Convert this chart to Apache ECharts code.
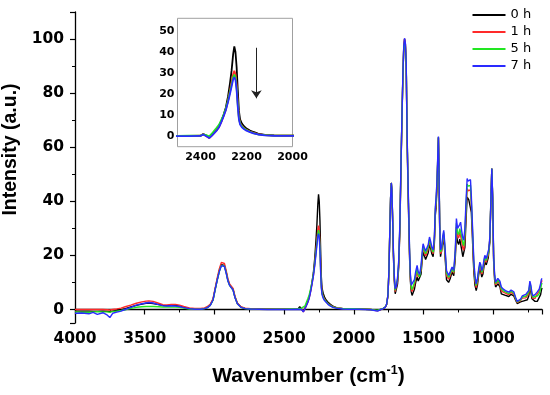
<!DOCTYPE html>
<html><head><meta charset="utf-8">
<script src="https://cdn.jsdelivr.net/npm/echarts@6/dist/echarts.min.js"></script>
<style>html,body{margin:0;padding:0;background:#fff}#c{width:550px;height:395px}</style>
</head><body><div id="c"></div>
<script>
// Wavenumber grid (cm-1)
const wavenumber = [
4000,3950,3900,3870,3840,3800,3770,3750,3730,3700,3670,3640,3600,3560,3520,3490,3470,3440,3400,3370,3340,3310,3280,3250,3220,3180,3140,3100,3070,3050,3030,
3010,2995,2980,2965,2950,2938,2928,2915,2903,2890,2878,2866,2852,2835,2810,2780,
2740,2680,2620,2560,2500,2450,
2400,2388,2375,2362,2350,2340,2330,2320,2310,2300,2290,2280,2272,2265,2258,2253,2248,2243,2238,2233,2228,2220,2210,2200,2185,2170,2150,2120,2080,2040,2000,
1960,1920,1880,1850,1830,1810,1790,1775,1765,
1755,1748,1742,1736,1731,1727,1722,1716,1710,1703,1695,1686,1678,1670,1663,1656,1648,1642,1636,1630,1624,1618,1612,1606,1600,1594,1588,1582,1574,1565,1556,1546,1538,1528,1518,1510,1503,1495,1485,1476,1466,1457,1448,1440,1431,1422,1415,1410,1403,1397,1393,1389,1384,1378,
1370,1362,1355,1347,1335,1320,1308,1295,1283,1272,1264,1256,1248,1240,1234,1226,1218,1211,1203,1195,1187,1181,1175,1169,1163,1157,1151,1145,1139,1131,1122,1113,1104,1096,1089,1082,1074,1066,1060,1055,1050,1043,1036,1031,1024,1017,1010,1004,997,990,983,975,967,960,952,942,927,912,900,888,880,872,862,852,840,828,816,804,792,780,766,755,745,737,730,722,715,700,684,670,660,655,650
];
// 0 h
const h0 = [
-0.6,-0.6,-0.6,-0.7,-0.7,-0.6,-0.7,-0.8,-0.6,-0.4,-0.1,0.3,0.9,1.5,2.0,2.3,2.4,2.2,1.8,1.5,1.4,1.5,1.5,1.2,0.8,0.4,0.2,0.2,0.4,0.8,1.6,
3.6,7.4,11.0,14.3,16.6,17.3,16.3,13.7,10.8,9.0,9.2,7.4,4.5,2.2,0.9,0.4,
0.3,0.2,0.2,0.1,0.1,0.1,
0.2,1.0,0.3,-0.7,0.6,1.8,3.0,4.6,7.0,10,13.5,19,25,31,39,42.6,40,33,22,12,8,6,4.6,3.6,2.7,2.0,1.2,0.6,0.4,0.3,0.3,
0.2,0.1,0.0,-0.2,-0.3,0.0,0.3,0.8,1.8,
5,14,28,41,46.8,44,34,20,11,5.8,6.2,9.5,15.5,28.5,48,67,86,96,100,98,90,64,47,33,19,10.5,6.5,5.2,5.8,7.5,10,12,10.5,10,13,18,21.2,20,18.5,18,21,24,22.5,20.5,19.5,24.5,35,37.5,45,56,63.5,51,30,19.5,
20,24.5,26.5,21,11,10,11.5,13.8,12.5,19,28,25,24,26,26.5,22,19.5,18.8,23,33,41.6,41,40.5,41,41,36,29,21,14,9,7,9,13,15,14,12,13,16,17.5,18,16.5,17,19,19.4,25,39,52,41,18,11,8.3,8.6,9.5,10.1,8.5,5.8,5.5,5.2,5,4.8,5.2,5.6,6,5,3.5,2.2,2.3,2.8,3.5,3.2,3.3,3.6,5,7.7,6.5,4,3.3,3,3,3.5,5.5,7,8
];
// 1 h
const h1 = [
0.0,0.0,0.0,0.0,0.0,0.0,-0.1,-0.2,0.0,0.2,0.5,1.0,1.6,2.3,2.8,3.1,3.2,3.0,2.3,1.8,1.7,1.9,1.9,1.6,1.1,0.6,0.4,0.4,0.6,1.1,1.9,
3.9,7.8,11.6,15.0,17.4,18.1,17.0,14.3,11.3,9.4,9.6,7.8,4.8,2.4,1.0,0.5,
0.3,0.2,0.2,0.1,0.1,0.1,
0.2,0.9,0.1,-0.9,0.4,1.6,2.8,4.3,6.7,9.5,12.5,17,21.5,25.5,29.5,31,29.5,24.5,16,9,6.3,4.8,3.8,3.0,2.2,1.6,1.0,0.5,0.3,0.2,0.2,
0.2,0.1,0.0,-0.3,-0.5,-0.1,0.3,0.8,1.8,
5.2,14.2,28.2,41.2,46.8,44.2,34.5,20.9,11.9,6.6,7.2,10.6,16.6,29.6,48.9,67.4,86.4,96.4,100.1,98.2,90.4,64.9,48.4,34.4,20.4,11.6,7.6,6.6,7.2,9.1,11.8,13.9,12.0,11.4,14.3,19.3,22.6,21.4,19.8,19.4,22.4,25.3,23.6,21.6,20.6,25.6,36.4,39.0,46.3,56.9,63.7,51.4,30.9,20.6,
21.4,25.6,27.8,22.4,12.5,11.2,12.6,14.7,13.4,20.4,30.5,27.3,26.4,28.5,29.1,25.2,22.7,21.9,26.2,36.2,44.7,43.9,43.4,43.9,44.2,38.7,31.3,23.3,15.8,10.6,8.1,10.1,13.9,16.1,15.1,13.1,14.1,17.1,18.6,19.1,17.5,18.1,20.1,20.8,25.9,39.5,52.1,41.5,18.9,11.9,9.1,9.5,10.4,11.1,9.4,6.9,6.4,6.0,5.7,5.5,5.9,6.3,6.8,5.7,4.0,2.6,2.6,3.3,4.2,3.9,4.3,4.6,5.9,9.0,7.6,4.9,4.1,4.1,5.8,6.8,8.6,10,10.8
];
// 5 h
const h5 = [
-0.9,-1.0,-1.0,-0.9,-0.8,-0.9,-0.9,-1.0,-0.8,-0.6,-0.4,-0.1,0.4,0.8,1.0,1.1,1.1,1.1,1.0,0.9,0.9,0.9,0.9,0.8,0.5,0.2,0.1,0.1,0.3,0.7,1.5,
3.4,7.2,10.8,14.0,16.3,17.0,16.0,13.5,10.6,8.8,9.0,7.2,4.4,2.1,0.8,0.3,
0.2,0.1,0.1,0.1,0.1,0.2,
0.3,0.8,0.5,-0.1,1.3,2.7,4.0,5.4,7.6,10,13,17,21,24.5,28,29.3,28,23,15,8.5,6,4.6,3.6,2.9,2.1,1.5,0.9,0.5,0.3,0.3,0.3,
0.2,0.1,0.0,-0.2,-0.3,0.0,0.4,0.9,1.9,
5.4,14.4,28.4,41.3,46.8,44.4,34.7,21.4,12.4,7.1,7.8,11.3,17.3,30.3,49.4,67.5,86.5,96.3,98.6,97.3,90.5,65.4,49.1,35.1,21.1,12.3,8.2,7.4,8.0,10.0,12.8,15.0,12.9,12.1,15.1,19.8,23.4,22.1,20.6,20.1,23.1,25.9,24.1,22.1,21.2,26.2,37.1,39.9,47.1,57.4,63.8,51.7,31.4,21.3,
22.1,26.3,28.5,23.1,13.4,11.8,13.3,15.1,13.8,21.1,31.9,28.5,27.7,29.9,30.6,26.9,24.4,23.6,27.9,37.9,46.4,45.6,45.1,45.6,45.9,40.2,32.5,24.5,16.8,11.5,8.8,10.8,14.4,16.8,15.8,13.7,14.8,17.8,19.3,19.7,18.1,18.8,20.8,21.6,26.4,39.7,52.1,41.7,19.4,12.4,9.6,9.9,10.9,11.6,9.9,7.6,6.9,6.5,6.1,5.9,6.3,6.7,7.3,6.1,4.2,2.8,2.8,3.5,4.6,4.3,4.9,5.1,6.4,9.7,8.3,5.4,4.5,4.8,5.0,5.8,7.6,9.0,9.8
];
// 7 h
const h7 = [
-1.4,-1.3,-1.6,-1.1,-1.8,-1.2,-2.0,-3.0,-1.4,-1.0,-0.6,0.0,0.8,1.6,2.1,2.4,2.6,2.4,1.8,1.4,1.3,1.4,1.3,1.1,0.7,0.3,0.1,0.1,0.3,0.7,1.5,
3.5,7.3,10.8,14.0,16.2,16.9,15.9,13.3,10.5,8.8,9.0,7.2,4.3,2.1,0.8,0.3,
0.2,0.1,0.0,0.0,0.0,0.0,
0.1,0.8,0.0,-0.9,0.3,1.4,2.6,4.1,6.5,9.3,12.3,16.3,20,23.5,27,28,26.8,22,14,8,5.5,4.2,3.3,2.6,1.9,1.3,0.8,0.4,0.2,0.1,0.1,
0.1,0.0,-0.1,-0.4,-0.6,-0.1,0.3,0.8,1.8,
5.5,14.5,28.5,41.5,46.8,44.5,35,22,13,7.7,8.5,12,18,31,50,68,87,97,100.3,98.5,91,66,50,36,22,13,9,8.3,9,11,14,16.3,14,13,16,21,24.3,23,21.5,21,24,26.8,25,23,22,27,38,41,48,58,64,52,32,22,
23,27,29.3,24,14.4,12.6,14,15.7,14.4,22,33.6,30,29.3,31.5,32.3,29,26.5,25.6,30,40,48.4,47.5,47,47.5,48,42,34,26,18,12.5,9.5,11.5,15,17.5,16.5,14.4,15.5,18.5,20,20.4,18.8,19.5,21.5,22.5,27,40,52.1,42,20,13,10.1,10.5,11.5,12.2,10.5,8.3,7.5,7,6.6,6.4,6.8,7.2,7.8,6.5,4.5,3.0,3.0,3.8,5.0,4.8,5.6,5.8,7,10.5,9,6,5.0,5.5,6.5,7.5,9.5,11,11.5
];
const seriesNames = ['0 h','1 h','5 h','7 h'];
const seriesValues = [h0, h1, h5, h7];
const seriesColors = ['#000000','#ff2a2a','#22e622','#2a2aff'];
// Inset arrow annotation (data coords in inset)
const arrowX = 2157, arrowFrom = 42, arrowTo = 18;

const chart = echarts.init(document.getElementById('c'), null, {renderer:'canvas'});
const plain = v => String(v);
const tickFont = {fontFamily:'DejaVu Sans', fontWeight:'bold', fontSize:15.5, color:'#000', formatter:plain};
const insetFont = {fontFamily:'DejaVu Sans', fontWeight:'bold', fontSize:11, color:'#000', formatter:plain};
const series = [];
seriesValues.forEach((vals, k) => {
  const data = wavenumber.map((w, i) => [w, vals[i]]);
  series.push({name: seriesNames[k], type:'line', xAxisIndex:0, yAxisIndex:0, data,
    symbol:'none', lineStyle:{width:1.4, color:seriesColors[k]}, itemStyle:{color:seriesColors[k]}, z:2+k, animation:false});
});
seriesValues.forEach((vals, k) => {
  const data = wavenumber.map((w, i) => [w, vals[i]]);
  series.push({name: seriesNames[k], type:'line', xAxisIndex:1, yAxisIndex:1, data, clip:true,
    symbol:'none', lineStyle:{width:1.8, color:seriesColors[k]}, itemStyle:{color:seriesColors[k]}, z:12+k, animation:false});
});
series.push({name:'arrow', type:'lines', coordinateSystem:'cartesian2d', xAxisIndex:1, yAxisIndex:1, z:20,
  symbol:['none','arrow'], symbolSize:8, silent:true, animation:false,
  lineStyle:{color:'#222', width:1, opacity:1},
  data:[{coords:[[arrowX, arrowFrom],[arrowX, arrowTo]]}]});

chart.setOption({
  backgroundColor:'#fff',
  animation:false,
  legend:{data:seriesNames, orient:'vertical', left:472.5, top:8.5, padding:0, itemWidth:33, itemHeight:14, itemGap:4,
    textStyle:{fontFamily:'DejaVu Sans', fontSize:13, color:'#000'}, icon:'path://M0,6H33V8H0Z'},
  grid:[
    {left:75, right:8, top:12, bottom:72, show:false, outerBoundsMode:'none', containLabel:false},
    {left:177.5, width:115, top:18.3, height:128.4, show:true, borderColor:'#a0a0a0', borderWidth:1, backgroundColor:'#fff', z:10, outerBoundsMode:'none', containLabel:false}
  ],
  xAxis:[
    {type:'value', gridIndex:0, min:650, max:4000, inverse:true,
     name:'Wavenumber (cm{sup|-1})', nameLocation:'middle', nameGap:41,
     nameTextStyle:{fontFamily:'Liberation Sans', fontWeight:'bold', fontSize:21, color:'#000', lineHeight:25,
       rich:{sup:{fontFamily:'Liberation Sans', fontWeight:'bold', fontSize:12.5, verticalAlign:'top', lineHeight:12, color:'#000'}}},
     axisLine:{lineStyle:{color:'#000', width:1.3}},
     axisTick:{length:5, lineStyle:{color:'#000', width:1.2}},
     minorTick:{show:true, splitNumber:2, length:3, lineStyle:{color:'#000', width:1}},
     axisLabel:Object.assign({margin:8, showMinLabel:false}, tickFont),
     splitLine:{show:false}},
    {type:'value', gridIndex:1, min:2000, max:2500, interval:200, inverse:true,
     axisLine:{show:false}, axisTick:{show:false}, splitLine:{show:false},
     axisLabel:Object.assign({margin:5, showMaxLabel:false}, insetFont)}
  ],
  yAxis:[
    {type:'value', gridIndex:0, min:-5, max:110,
     name:'Intensity (a.u.)', nameLocation:'middle', nameGap:46, nameRotate:90,
     nameTextStyle:{fontFamily:'Liberation Sans', fontWeight:'bold', fontSize:19.5, color:'#000', padding:[0,0,0,36]},
     axisLine:{show:true, lineStyle:{color:'#000', width:1.3}},
     axisTick:{show:true, length:5, lineStyle:{color:'#000', width:1.2}},
     minorTick:{show:true, splitNumber:2, length:3, lineStyle:{color:'#000', width:1}},
     axisLabel:Object.assign({margin:11, showMinLabel:false, showMaxLabel:false}, tickFont),
     splitLine:{show:false}},
    {type:'value', gridIndex:1, min:-5, max:56,
     axisLine:{show:false}, axisTick:{show:false}, splitLine:{show:false},
     axisLabel:Object.assign({margin:3, showMinLabel:false, showMaxLabel:false}, insetFont)}
  ],
  series
});
</script></body></html>
